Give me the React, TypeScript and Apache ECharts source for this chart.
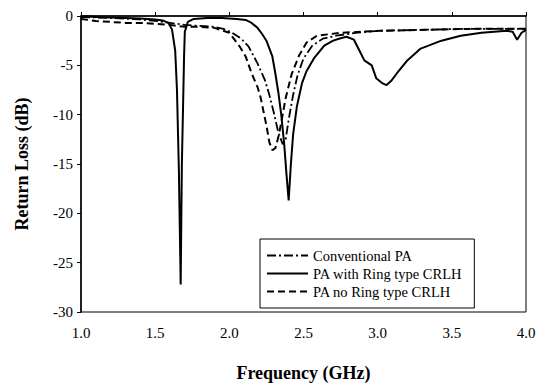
import React, { useEffect, useRef } from "react";
import * as echarts from "echarts";

const seriesNames = ["Conventional PA", "PA with Ring type CRLH", "PA no Ring type CRLH"];

const convFreq = [1.0, 1.2, 1.4, 1.5, 1.6, 1.7, 1.8, 1.9, 1.96, 2.02, 2.08, 2.13, 2.19, 2.24, 2.27, 2.3, 2.33, 2.36, 2.38, 2.4, 2.43, 2.46, 2.5, 2.56, 2.63, 2.72, 2.85, 3.0, 3.3, 3.6, 4.0];
const convLoss = [-0.1, -0.2, -0.35, -0.5, -0.7, -0.9, -1.0, -1.1, -1.3, -1.7, -2.3, -3.1, -4.8, -6.5, -8.0, -9.8, -11.8, -13.0, -12.5, -10.5, -8.0, -6.0, -4.3, -3.0, -2.3, -2.0, -1.7, -1.5, -1.4, -1.3, -1.3];

const ringFreq = [1.0, 1.1, 1.2, 1.3, 1.4, 1.5, 1.55, 1.59, 1.614, 1.635, 1.647, 1.66, 1.672, 1.68, 1.688, 1.695, 1.7, 1.72, 1.76, 1.85, 1.95, 2.05, 2.11, 2.15, 2.19, 2.22, 2.25, 2.29, 2.31, 2.33, 2.35, 2.37, 2.385, 2.4, 2.415, 2.43, 2.455, 2.49, 2.52, 2.57, 2.64, 2.7, 2.75, 2.79, 2.84, 2.87, 2.91, 2.96, 2.99, 3.03, 3.06, 3.09, 3.13, 3.2, 3.29, 3.43, 3.56, 3.7, 3.87, 3.91, 3.94, 3.97, 4.0];
const ringLoss = [0, -0.1, -0.15, -0.2, -0.25, -0.35, -0.45, -0.7, -1.4, -3.5, -7.5, -15.7, -27.2, -15, -9.2, -4, -1.6, -0.6, -0.3, -0.2, -0.2, -0.3, -0.4, -0.7, -1.2, -1.8, -2.5, -4.1, -5.8, -7.7, -10, -13, -16, -18.7, -15, -12, -9.2, -6.8, -5.6, -4.3, -3.0, -2.5, -2.25, -2.1, -2.4, -3.3, -4.5, -5.0, -6.3, -6.8, -7.0, -6.6, -5.8, -4.5, -3.3, -2.5, -2.0, -1.7, -1.5, -1.6, -2.4, -1.7, -1.4];

const noRingFreq = [1.0, 1.1, 1.2, 1.3, 1.4, 1.5, 1.6, 1.7, 1.8, 1.9, 1.94, 2.0, 2.04, 2.07, 2.11, 2.15, 2.19, 2.21, 2.25, 2.27, 2.29, 2.31, 2.33, 2.35, 2.38, 2.42, 2.47, 2.52, 2.59, 2.75, 2.89, 3.02, 3.31, 3.65, 4.0];
const noRingLoss = [-0.3, -0.5, -0.6, -0.7, -0.7, -0.8, -0.9, -1.1, -1.1, -1.2, -1.4, -1.7, -2.5, -3.1, -4.1, -5.8, -7.2, -8.2, -11.1, -12.8, -13.6, -13.4, -12.3, -10.8, -8.3, -5.9, -4.0, -2.7, -2.0, -1.7, -1.6, -1.5, -1.4, -1.3, -1.3];

const zip = (xs: number[], ys: number[]) => xs.map((x, i) => [x, ys[i]]);

const serif = "'Liberation Serif', 'DejaVu Serif', serif";

export default function App() {
  const ref = useRef<HTMLDivElement>(null);
  useEffect(() => {
    if (!ref.current) return;
    const chart = echarts.init(ref.current, undefined, { renderer: "svg" });
    chart.setOption({
      animation: false,
      backgroundColor: "#ffffff",
      grid: { left: 81, right: 22, top: 16, bottom: 64, show: true, borderColor: "#000", borderWidth: 1 },
      xAxis: {
        type: "value",
        min: 1,
        max: 4,
        interval: 0.5,
        name: "Frequency (GHz)",
        nameLocation: "middle",
        nameGap: 52,
        nameTextStyle: { fontFamily: serif, fontWeight: "bold", fontSize: 18, color: "#000" },
        axisLine: { lineStyle: { color: "#000", width: 1.5 } },
        axisTick: { inside: true, length: 4, lineStyle: { color: "#000" } },
        axisLabel: { formatter: (v: number) => v.toFixed(1), fontFamily: serif, fontSize: 15, color: "#000", margin: 13 },
        splitLine: { show: false },
      },
      yAxis: {
        type: "value",
        min: -30,
        max: 0,
        interval: 5,
        name: "Return Loss (dB)",
        nameLocation: "middle",
        nameGap: 50,
        nameTextStyle: { fontFamily: serif, fontWeight: "bold", fontSize: 18, color: "#000" },
        axisLine: { show: true, lineStyle: { color: "#000", width: 1.5 } },
        axisTick: { show: true, inside: false, length: 4, lineStyle: { color: "#000" } },
        axisLabel: { fontFamily: serif, fontSize: 15, color: "#000", margin: 8 },
        splitLine: { show: false },
      },
      legend: {
        orient: "vertical",
        left: 260,
        top: 239,
        padding: [9, 12, 9, 6],
        itemWidth: 41,
        itemHeight: 14,
        itemGap: 3,
        borderColor: "#000",
        borderWidth: 1,
        backgroundColor: "#fff",
        itemStyle: { opacity: 0 },
        textStyle: { fontFamily: serif, fontSize: 14.5, color: "#000" },
        data: seriesNames,
      },
      series: [
        {
          name: seriesNames[0],
          type: "line",
          symbol: "none",
          data: zip(convFreq, convLoss),
          lineStyle: { color: "#000", width: 1.8, type: [9, 3, 2, 3] },
          itemStyle: { color: "#000" },
        },
        {
          name: seriesNames[1],
          type: "line",
          symbol: "none",
          data: zip(ringFreq, ringLoss),
          lineStyle: { color: "#000", width: 2 },
          itemStyle: { color: "#000" },
        },
        {
          name: seriesNames[2],
          type: "line",
          symbol: "none",
          data: zip(noRingFreq, noRingLoss),
          lineStyle: { color: "#000", width: 2, type: [7, 4] },
          itemStyle: { color: "#000" },
        },
      ],
    });
    return () => chart.dispose();
  }, []);
  return <div ref={ref} style={{ position: "fixed", left: 0, top: 0, width: 548, height: 387 }} />;
}
